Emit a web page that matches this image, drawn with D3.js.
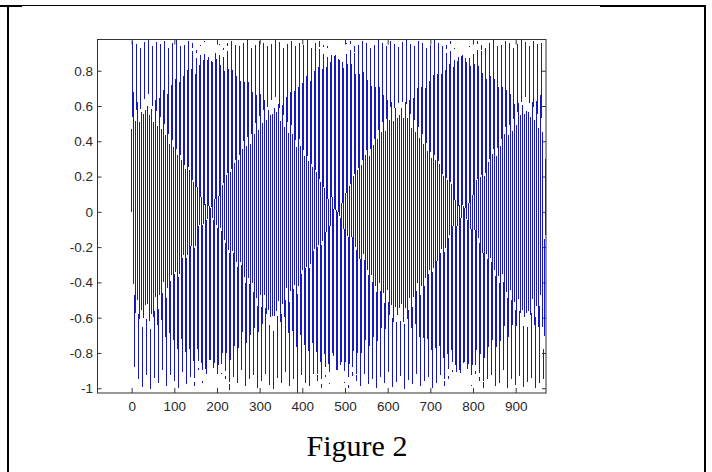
<!DOCTYPE html>
<meta charset="utf-8">
<style>
  body { margin: 0; background: #fff; }
  .tick text { font-family: "Liberation Sans", Arial, sans-serif; font-size: 13.5px; fill: #2a2a2a; }
  .caption { font-family: "Liberation Serif", "Times New Roman", serif; font-size: 30px; fill: #000; }
</style>
<body>
<script src="https://d3js.org/d3.v7.min.js"></script>
<svg id="chart" width="712" height="472"></svg>
<script>
// values: one peak and one trough per cycle
const startValue = 0;
const endValue = 0.3;
const peaks = [
  0.97,0.95,0.93,0.96,0.977,0.94,0.96,0.95,0.97,0.93,
  0.96,0.975,0.94,0.95,0.97,0.96,0.92,0.95,0.97,0.96,
  0.94,0.977,0.95,0.93,0.96,0.97,0.95,0.94,0.96,0.975,
  0.93,0.95,0.97,0.96,0.94,0.95,0.977,0.96,0.93,0.95,
  0.97,0.94,0.96,0.95,0.975,0.93,0.96,0.97,0.95,0.94,
  0.96,0.977,0.95,0.92,0.96,0.97,0.94,0.95,0.97,0.96,
  0.93,0.95,0.975,0.96,0.94,0.97,0.95,0.93,0.96,0.977,
  0.95,0.94,0.97,0.96,0.93,0.95,0.975,0.96,0.94,0.95,
  0.97,0.93,0.96,0.977,0.95,0.94,0.96,0.97,0.95,0.93,
  0.96,0.975,0.94,0.95,0.97,0.96,0.93,0.95,0.977,0.96,
  0.94,0.97,0.95,0.96
];
const troughs = [
  -0.88,-0.95,-0.99,-0.92,-1.0,-0.94,-0.97,-0.9,-0.99,-0.93,
  -0.96,-1.0,-0.91,-0.98,-0.94,-0.99,-0.9,-0.97,-1.0,-0.93,
  -0.96,-0.99,-0.92,-0.95,-1.01,-0.94,-0.97,-0.9,-0.99,-0.95,
  -0.93,-1.0,-0.96,-0.92,-0.98,-1.0,-0.94,-0.97,-0.91,-0.99,
  -0.95,-1.027,-0.93,-0.97,-0.99,-0.92,-0.96,-1.0,-0.94,-0.98,
  -0.9,-0.99,-0.95,-0.97,-1.0,-0.93,-0.96,-0.99,-0.92,-0.98,
  -0.95,-1.0,-0.94,-0.97,-0.91,-0.99,-0.96,-0.93,-1.0,-0.95,
  -0.98,-0.92,-0.99,-0.96,-0.94,-1.0,-0.97,-0.93,-0.99,-0.95,
  -0.91,-0.98,-1.0,-0.94,-0.97,-0.99,-0.92,-0.96,-1.0,-0.95,
  -0.93,-0.99,-0.97,-0.9,-1.0,-0.95,-0.98,-0.93,-0.99,-0.96,
  -0.94,-1.0,-0.97,-0.95
];
const cycle = 9.3;      // samples per cycle (x units)
const lastX = 970;

const xTicks = [0, 100, 200, 300, 400, 500, 600, 700, 800, 900];
const yTicks = [-1, -0.8, -0.6, -0.4, -0.2, 0, 0.2, 0.4, 0.6, 0.8];
const yTickLabels = ["-1", "-0.8", "-0.6", "-0.4", "-0.2", "0", "0.2", "0.4", "0.6", "0.8"];

// build the vertex list: start, then peak/trough for each cycle
var pts = [[0, startValue]];
peaks.forEach(function(p, i) {
  pts.push([cycle * i + cycle / 4, p]);
  pts.push([cycle * i + cycle * 3 / 4, troughs[i]]);
});
pts.push([lastX, endValue]);

var svg = d3.select('#chart');

var box = {left: 97.5, top: 39.5, right: 546, bottom: 393};
var xScale = d3.scaleLinear().domain([-80, 971]).range([box.left, box.right]);
var yScale = d3.scaleLinear().domain([-1.027, 0.977]).range([box.bottom, box.top]);

// page frame
var frame = svg.append('g').attr('stroke', '#000').attr('fill', 'none');
frame.append('line').attr('x1', 0).attr('x2', 600).attr('y1', 5.5).attr('y2', 5.5).attr('stroke-width', 1);
frame.append('line').attr('x1', 0).attr('x2', 22).attr('y1', 6).attr('y2', 6).attr('stroke-width', 2);
frame.append('line').attr('x1', 600).attr('x2', 706).attr('y1', 6).attr('y2', 6).attr('stroke-width', 2);
frame.append('line').attr('x1', 8).attr('x2', 8).attr('y1', 5).attr('y2', 472).attr('stroke-width', 2);
frame.append('line').attr('x1', 705).attr('x2', 705).attr('y1', 5).attr('y2', 472).attr('stroke-width', 2);

svg.append('clipPath').attr('id', 'plotclip')
  .append('rect')
    .attr('x', box.left).attr('y', box.top)
    .attr('width', box.right - box.left).attr('height', box.bottom - box.top);

// axes, ticks pointing inward, mirrored on top/right
svg.append('g')
  .attr('transform', 'translate(0,' + box.bottom + ')')
  .call(d3.axisBottom(xScale).tickValues(xTicks).tickSizeInner(-5).tickSizeOuter(0).tickPadding(8));
svg.append('g')
  .attr('transform', 'translate(0,' + box.top + ')')
  .call(d3.axisTop(xScale).tickValues(xTicks).tickSizeInner(-5).tickSizeOuter(0).tickFormat(''));
svg.append('g')
  .attr('transform', 'translate(' + box.left + ',0)')
  .call(d3.axisLeft(yScale).tickValues(yTicks).tickSizeInner(-4).tickSizeOuter(0).tickPadding(4.5)
    .tickFormat(function(d, i) { return yTickLabels[i]; }));
svg.append('g')
  .attr('transform', 'translate(' + box.right + ',0)')
  .call(d3.axisRight(yScale).tickValues(yTicks).tickSizeInner(-4).tickSizeOuter(0).tickFormat(''));
svg.selectAll('.domain').remove();
svg.selectAll('.tick line').attr('stroke', '#333');

svg.append('rect')
  .attr('x', box.left).attr('y', box.top)
  .attr('width', box.right - box.left).attr('height', box.bottom - box.top)
  .attr('fill', 'none').attr('stroke', '#333').attr('stroke-width', 1);

var line = d3.line()
  .x(function(d) { return xScale(d[0]); })
  .y(function(d) { return yScale(d[1]); })
  .curve(d3.curveMonotoneX);

svg.append('path')
  .datum(pts)
  .attr('clip-path', 'url(#plotclip)')
  .attr('fill', 'none')
  .attr('stroke', '#1818c0')
  .attr('stroke-width', 1)
  .attr('shape-rendering', 'crispEdges')
  .attr('d', line);

svg.append('text')
  .attr('class', 'caption')
  .attr('x', 357).attr('y', 456)
  .attr('text-anchor', 'middle')
  .text('Figure 2');
</script>
</body>
